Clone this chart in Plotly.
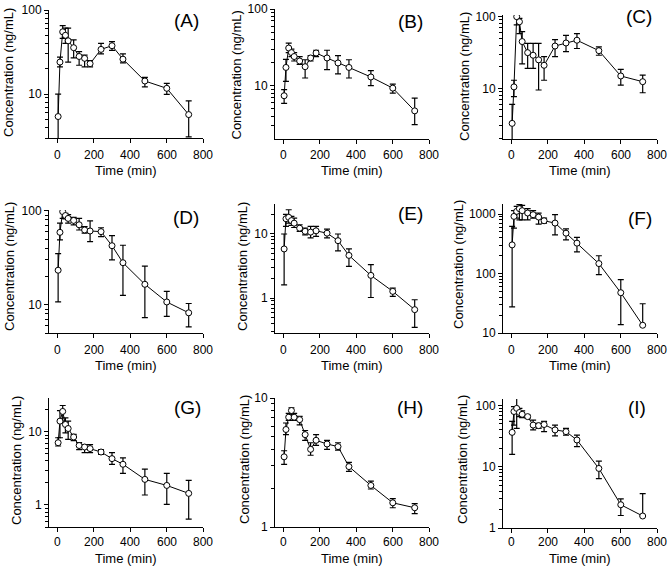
import plotly.graph_objects as go
import math

W, H = 670, 571

times = [5, 15, 30, 45, 60, 90, 120, 150, 180, 240, 300, 360, 480, 600, 720]

A_mean = [5.4, 24, 55, 50, 43, 35.6, 28, 26.6, 23, 34, 37.6, 26, 14.3, 11.7, 5.7]
A_upper = [10, 27.5, 65, 61, 61, 44, 32, 29, 25, 40, 42, 30, 15.8, 13.4, 8.3]
A_lower = [0.8, 21, 46, 40, 24, 27, 22, 21, 21, 30, 33, 23.5, 12.2, 9.9, 3.1]

B_mean = [7.4, 17.3, 31, 27, 24, 21, 17.7, 23, 26.7, 23, 19.8, 17.3, 13, 9.3, 4.7]
B_upper = [8.9, 22, 36, 30, 27, 24, 21.8, 24.6, 29, 29, 24.6, 21.8, 15.7, 10.5, 6.9]
B_lower = [5.9, 11.4, 27, 24, 21, 19, 12.6, 21, 24, 16.2, 14.3, 12.6, 10, 8.0, 3.1]

C_mean = [3.25, 10.5, 100, 85, 45, 31.5, 29, 25, 21, 39, 43, 47, 33.6, 14.9, 12.4]
C_upper = [6.0, 13, 109, 95, 62, 42.5, 42.5, 42.5, 27.7, 48, 55, 58, 38, 18.4, 15.3]
C_lower = [0.5, 7.7, 77, 58, 22, 19, 19, 9.5, 13, 27.7, 32.5, 36, 29, 11.1, 8.7]

D_mean = [23.3, 59, 98, 89, 83, 79, 71, 62.5, 61, 60, 42.5, 28, 16.5, 10.7, 8.2]
D_upper = [35, 74, 121, 94, 91, 85, 83, 68, 78, 66, 54.5, 43, 25.8, 13.9, 10.3]
D_lower = [10.7, 49, 83, 82, 74, 71, 62.5, 58, 47, 53, 30, 12.6, 7.3, 7.5, 5.8]

E_mean = [5.8, 17.1, 18, 16, 14.6, 12.2, 10.9, 10.6, 11.1, 10.2, 7.8, 4.6, 2.25, 1.27, 0.66]
E_upper = [9.9, 20, 23.6, 18.6, 17.5, 13.8, 12.2, 13, 13, 11.8, 9.9, 5.8, 3.3, 1.43, 0.94]
E_lower = [1.6, 13, 14.6, 13.5, 12.5, 10.9, 9.6, 8.6, 9.1, 8.6, 5.4, 3.1, 1.02, 1.06, 0.35]

F_mean = [303, 913, 1110, 1230, 1140, 1040, 975, 890, 771, 705, 477, 324, 147, 47.6, 13.5]
F_upper = [620, 1140, 1350, 1440, 1400, 1230, 1140, 1040, 856, 975, 565, 404, 199, 79, 31]
F_lower = [27.5, 580, 856, 800, 800, 800, 856, 678, 700, 447, 368, 232, 96, 13.8, 13.5]

G_mean = [7.1, 14, 19, 12.6, 11.1, 8.5, 6.5, 6.2, 5.9, 5.3, 4.3, 3.6, 2.24, 1.85, 1.44]
G_upper = [8.3, 19.5, 22.9, 15.5, 14, 9.2, 7.1, 6.7, 6.7, 5.7, 5.2, 4.4, 3.1, 2.7, 2.17]
G_lower = [6.4, 8.3, 14, 9.7, 7.9, 7.6, 5.7, 5.2, 5.2, 4.9, 3.6, 2.7, 1.37, 1.02, 0.64]

H_mean = [3.5, 5.7, 7.1, 8.0, 7.1, 6.8, 5.2, 4.0, 4.7, 4.4, 4.2, 2.94, 2.1, 1.54, 1.41]
H_upper = [3.9, 6.4, 7.6, 8.4, 7.6, 7.2, 5.6, 4.5, 5.2, 4.7, 4.5, 3.17, 2.27, 1.66, 1.52]
H_lower = [3.06, 5.2, 6.7, 7.4, 6.7, 6.2, 4.7, 3.6, 4.3, 4.0, 3.95, 2.7, 1.97, 1.41, 1.27]

I_mean = [36.5, 80, 90, 77, 72, 66, 48, 47, 49, 40, 37.5, 27.4, 9.4, 2.4, 1.57]
I_upper = [55, 96, 132, 90, 82, 70, 58, 51, 55, 48, 42.5, 33, 12.4, 3.0, 3.65]
I_lower = [16, 48, 42.5, 66, 63.5, 62, 40, 42.5, 37.5, 32, 33, 21.3, 6.4, 1.6, 1.57]

panel_labels = ["(A)", "(B)", "(C)", "(D)", "(E)", "(F)", "(G)", "(H)", "(I)"]
x_ticks = [0, 200, 400, 600, 800]
y_ticks = [
    [10, 100], [10, 100], [10, 100],
    [10, 100], [1, 10], [10, 100, 1000],
    [1, 10], [1, 10], [1, 10, 100],
]
x_title = "Time (min)"
y_title = "Concentration (ng/mL)"

means = [A_mean, B_mean, C_mean, D_mean, E_mean, F_mean, G_mean, H_mean, I_mean]
uppers = [A_upper, B_upper, C_upper, D_upper, E_upper, F_upper, G_upper, H_upper, I_upper]
lowers = [A_lower, B_lower, C_lower, D_lower, E_lower, F_lower, G_lower, H_lower, I_lower]

# layout geometry (pixels)
col_x = [(49, 203.3), (275, 429.3), (503, 657.3)]
y_dom_px = [(10, 138), (9, 138.5), (15, 139.3),
            (210, 333), (204, 333), (204, 333),
            (398, 527), (398, 527), (399, 528)]
y_rng = [(3, 100), (2.05, 100), (1.95, 105.6),
         (5, 102), (0.286, 29), (10, 1475),
         (0.5, 29), (1, 10), (1, 128)]
label_pos = [(186, 20), (410, 21.5), (638.5, 16),
             (186, 217), (410.5, 213), (639.5, 218),
             (187.5, 408), (410, 408), (637, 408)]
ytitle_pos = [(8, 73), (235.5, 75), (464, 77),
              (9, 267), (242, 267), (459, 265),
              (16, 461), (244, 460), (462, 460)]
xtick_y = [155, 350, 542]
xtitle_y = [170, 365, 558]

FONT = "Liberation Sans, Arial, sans-serif"
fig = go.Figure()
annotations = []
layout = {}

for i in range(9):
    r, c = divmod(i, 3)
    sfx = "" if i == 0 else str(i + 1)
    m, up, lo = means[i], uppers[i], lowers[i]
    fig.add_trace(go.Scatter(
        x=times, y=m, mode="lines+markers",
        xaxis="x" + sfx, yaxis="y" + sfx,
        line=dict(color="black", width=1),
        marker=dict(symbol="circle", size=6, color="white",
                    line=dict(color="black", width=1)),
        error_y=dict(type="data", symmetric=False,
                     array=[u - v for u, v in zip(up, m)],
                     arrayminus=[v - l for v, l in zip(m, lo)],
                     color="black", thickness=1.2, width=3),
        showlegend=False, cliponaxis=True,
    ))
    x0, x1 = col_x[c]
    t0, t1 = y_dom_px[i]
    lo_r, hi_r = y_rng[i]
    minor_vals = []
    for k in range(-2, 5):
        for d in range(2, 10):
            v = d * 10 ** k
            if lo_r <= v <= hi_r:
                minor_vals.append(v)
    layout["xaxis" + sfx] = dict(
        domain=[x0 / W, x1 / W], anchor="y" + sfx, range=[-45, 800],
        showline=True, linecolor="black", linewidth=1, mirror=False,
        ticks="outside", ticklen=4, tickcolor="black", tickwidth=1,
        tickmode="array", tickvals=x_ticks, showticklabels=False,
        showgrid=False, zeroline=False, automargin=False,
    )
    layout["yaxis" + sfx] = dict(
        domain=[1 - t1 / H, 1 - t0 / H], anchor="x" + sfx, type="log",
        range=[math.log10(lo_r), math.log10(hi_r)],
        showline=True, linecolor="black", linewidth=1,
        ticks="outside", ticklen=4, tickcolor="black", tickwidth=1,
        tickmode="array", tickvals=y_ticks[i], ticktext=[str(v) for v in y_ticks[i]],
        tickfont=dict(family=FONT, size=12, color="black"),
        minor=dict(tickmode="array", tickvals=minor_vals, ticks="outside",
                   ticklen=3, tickcolor="black", tickwidth=1, showgrid=False),
        showgrid=False, zeroline=False, automargin=False, ticklabelstandoff=0,
    )
    # x tick labels
    px_per = (x1 - x0) / 845.0
    for tv in x_ticks:
        annotations.append(dict(
            text=str(tv), x=(x0 + (tv + 45) * px_per) / W, y=1 - xtick_y[r] / H,
            xref="paper", yref="paper", showarrow=False, xanchor="center", yanchor="middle",
            font=dict(family=FONT, size=12, color="black")))
    annotations.append(dict(
        text=x_title, x=((x0 + x1) / 2) / W, y=1 - xtitle_y[r] / H,
        xref="paper", yref="paper", showarrow=False, xanchor="center", yanchor="middle",
        font=dict(family=FONT, size=13, color="black")))
    tx, ty = ytitle_pos[i]
    annotations.append(dict(
        text=y_title, x=tx / W, y=1 - ty / H, textangle=-90,
        xref="paper", yref="paper", showarrow=False, xanchor="center", yanchor="middle",
        font=dict(family=FONT, size=13, color="black")))
    lx, ly = label_pos[i]
    annotations.append(dict(
        text=panel_labels[i], x=lx / W, y=1 - ly / H,
        xref="paper", yref="paper", showarrow=False, xanchor="center", yanchor="middle",
        font=dict(family=FONT, size=19, color="black")))

fig.update_layout(
    width=W, height=H, margin=dict(l=0, r=0, t=0, b=0),
    paper_bgcolor="white", plot_bgcolor="white",
    annotations=annotations, **layout,
)
fig.write_html("out.html", config={"displayModeBar": False},
               post_script="document.body.style.margin='0px';document.body.style.overflow='hidden';")
